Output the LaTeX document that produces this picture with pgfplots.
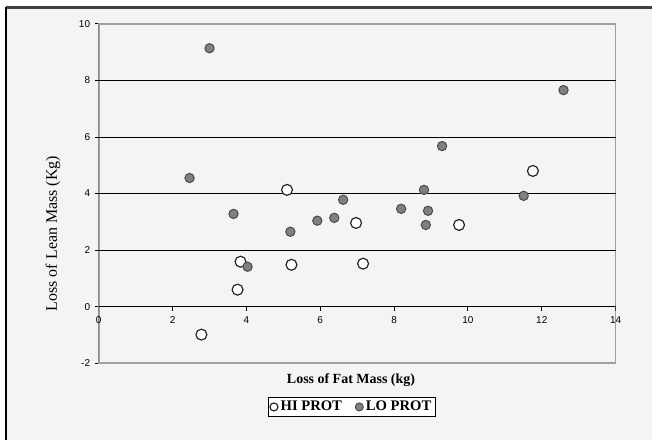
\documentclass[border=0pt]{standalone}
\usepackage{pgfplots}
\pgfplotsset{compat=1.18}
\usepackage{fontspec}
\setmainfont{Liberation Serif}
\newfontfamily\arial{Liberation Sans}
\definecolor{bg}{HTML}{F4F4F4}
\definecolor{dotfill}{HTML}{808080}
\definecolor{dotdraw}{HTML}{4A4A4A}
\definecolor{frame}{HTML}{A0A0A0}
\begin{document}
\begin{tikzpicture}[x=0.75pt,y=0.75pt]
  % page and chart area
  \fill[white] (0,0) rectangle (653,441);
  \fill[bg] (6,0) rectangle (653,433);
  \draw[line width=2.25pt, black!75] (6,433.5) -- (653,433.5);
  \draw[line width=1.5pt, black] (6,0) -- (6,434);
  \begin{axis}[
    at={(74.25pt,57.75pt)}, anchor=south west,
    scale only axis, width=388.5pt, height=255pt,
    xmin=0, xmax=14, ymin=-2, ymax=10,
    xtick={0,2,...,14}, ytick={-2,0,...,10},
    axis line style={draw=frame, line width=1.1pt},
    ytick pos=left, ytick align=outside, major tick length=3pt,
    tick style={black, line width=0.75pt},
    major x tick style={draw=none},
    xticklabel style={anchor=center, yshift=32.25pt},
    tick label style={font=\arial\fontsize{7.5}{8}\selectfont},
    /pgf/number format/assume math mode=true,
    extra y ticks={2,4,6,8}, extra y tick labels={},
    extra y tick style={grid=major, major grid style={black, line width=0.75pt}},
    xlabel={Loss of Fat Mass (kg)},
    xlabel style={at={(axis description cs:0.488,-0.05)}, anchor=center,
      font=\bfseries\fontsize{10.5}{12}\selectfont},
    ylabel={Loss of Lean Mass (Kg)},
    ylabel style={at={(axis description cs:-0.0888,0.382)}, anchor=center,
      font=\fontsize{12}{14}\selectfont},
    legend style={at={(axis description cs:0.49,-0.129)}, anchor=center,
      legend columns=2, draw=black, line width=0.75pt, fill=white,
      font=\bfseries\fontsize{11}{12}\selectfont, inner sep=1pt,
      /tikz/every even column/.append style={column sep=8pt}},
    legend image post style={mark size=3pt},
  ]
    % HI PROT
    \addplot[only marks, mark=*, mark size=4.1pt,
      mark options={fill=white, draw=black!85, line width=0.9pt}] coordinates {
      (2.78,-0.99) (3.76,0.60) (3.84,1.59) (5.10,4.13) (5.22,1.48)
      (6.97,2.96) (7.16,1.52) (9.76,2.89) (11.76,4.80)
    };
    \addlegendentry{HI PROT}
    % LO PROT
    \addplot[only marks, mark=*, mark size=3.5pt,
      mark options={fill=dotfill, draw=dotdraw, line width=0.75pt}] coordinates {
      (3.00,9.14) (2.46,4.55) (3.65,3.28) (4.03,1.41) (5.19,2.65)
      (5.92,3.04) (6.38,3.14) (6.62,3.78) (8.19,3.46) (8.81,4.13)
      (8.86,2.89) (8.92,3.39) (9.30,5.68) (11.51,3.92) (12.59,7.66)
    };
    \addlegendentry{LO PROT}
    % axis lines in black
    \draw[black, line width=1pt] (axis cs:0,-2) -- (axis cs:0,10);
    \draw[black, line width=0.9pt] (axis cs:0,0) -- (axis cs:14,0);
    \pgfplotsinvokeforeach{0,2,4,6,8,10,12,14}{
      \draw[black, line width=0.75pt] (axis cs:#1,0) -- (axis cs:#1,-0.14);
    }
  \end{axis}
\end{tikzpicture}
\end{document}
